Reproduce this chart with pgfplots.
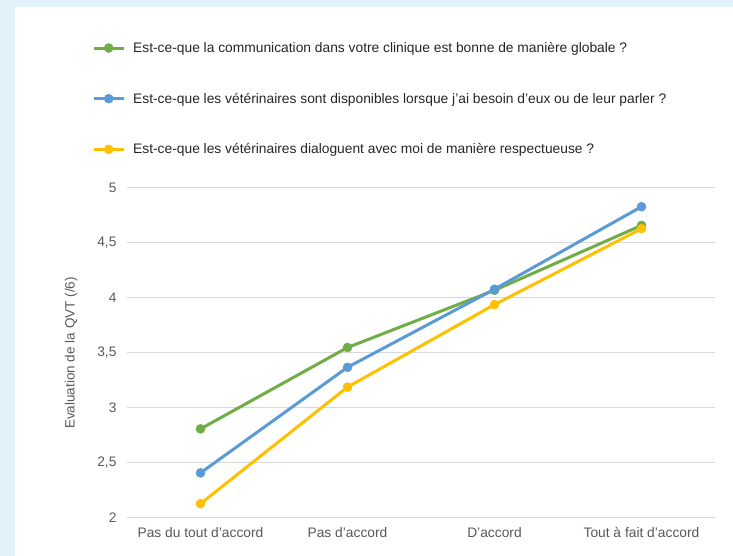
\documentclass[border=0pt]{standalone}
\usepackage{pgfplots}
\pgfplotsset{compat=1.18}
\usepackage{fontspec}
\setmainfont{Liberation Sans}
\definecolor{bgblue}{HTML}{E1F2FA}
\definecolor{cgreen}{HTML}{70AD47}
\definecolor{cblue}{HTML}{5B9BD5}
\definecolor{cyellow}{HTML}{FFC000}
\definecolor{gridgray}{HTML}{D9D9D9}
\definecolor{txtgray}{HTML}{595959}
\begin{document}
\begin{tikzpicture}
\useasboundingbox (0,0) rectangle (733pt,556pt);
\fill[bgblue] (0,0) rectangle (733pt,556pt);
\fill[white] (15pt,0) rectangle (733pt,549pt);
\begin{axis}[
  at={(127pt,38pt)}, anchor=south west,
  scale only axis, width=588pt, height=330pt,
  xmin=-0.5, xmax=3.5, ymin=2, ymax=5,
  xtick={0,1,2,3},
  xticklabels={Pas du tout d'accord, Pas d'accord, D'accord, Tout à fait d'accord},
  ytick={2,2.5,3,3.5,4,4.5,5},
  /pgf/number format/use comma,
  /pgf/number format/assume math mode=true,
  axis line style={draw=none},
  major tick length=0pt,
  ymajorgrids, grid style={gridgray, line width=1pt},
  tick label style={font=\fontsize{13.8}{16}\selectfont, text=txtgray},
  yticklabel style={xshift=-7pt},
  xticklabel style={yshift=-6pt},
  ylabel={Evaluation de la QVT (/6)},
  ylabel style={font=\fontsize{13.5}{16}\selectfont, text=txtgray,
    at={(axis description cs:-0.095,0.5)}, anchor=center, rotate=0},
  legend style={at={(axis description cs:0,1)}, anchor=north west,
    xshift=-38pt, yshift=150pt, draw=none, fill=none,
    font=\fontsize{13.8}{16}\selectfont, text=black!85, row sep=35pt},
  legend cell align=left,
  legend image code/.code={\draw[mark repeat=2,mark phase=2,#1] plot coordinates {(0pt,0pt) (15pt,0pt) (30pt,0pt)}; \path (36pt,0pt);},
]
\addplot[cgreen, line width=3pt, mark=*, mark size=4.5pt, mark options={solid, fill=cgreen, draw=cgreen, line width=0.5pt}] coordinates {(0,2.81) (1,3.55) (2,4.07) (3,4.66)};
\addplot[cblue, line width=3pt, mark=*, mark size=4.5pt, mark options={solid, fill=cblue, draw=cblue, line width=0.5pt}] coordinates {(0,2.41) (1,3.37) (2,4.08) (3,4.83)};
\addplot[cyellow, line width=3pt, mark=*, mark size=4.5pt, mark options={solid, fill=cyellow, draw=cyellow, line width=0.5pt}] coordinates {(0,2.13) (1,3.19) (2,3.94) (3,4.63)};
\legend{Est-ce-que la communication dans votre clinique est bonne de manière globale ?,
Est-ce-que les vétérinaires sont disponibles lorsque j'ai besoin d'eux ou de leur parler ?,
Est-ce-que les vétérinaires dialoguent avec moi de manière respectueuse ?}
\end{axis}
\end{tikzpicture}
\end{document}
